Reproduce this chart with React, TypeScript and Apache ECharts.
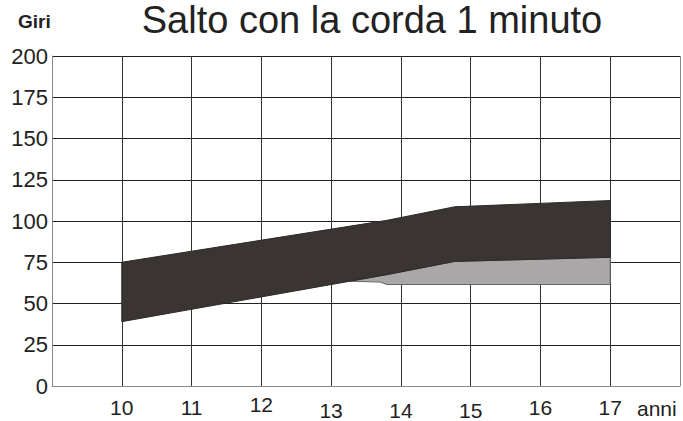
import React, { useEffect, useRef } from "react";
import * as echarts from "echarts";

const titleText = "Salto con la corda 1 minuto";
const yName = "Giri";
const xName = "anni";
const yTicks = [0, 25, 50, 75, 100, 125, 150, 175, 200];
const xTickLabels = [10, 11, 12, 13, 14, 15, 16, 17];

// upper edge of the dark band
const topX = [10, 13.8, 14.77, 17];
const topY = [75, 100.4, 108.6, 112.4];
// lower edge of the dark band / upper edge of the grey band
const midX = [10, 13.8, 14.77, 17];
const midY = [39, 67.5, 75.5, 78];
// lower edge of the grey band
const lowX = [13.27, 13.7, 13.8, 17];
const lowY = [63.5, 63, 61.5, 61.5];

const FONT = "'Liberation Sans', Arial, sans-serif";

// small vertical shifts of the year labels as in the source picture
const labelStyleKey: Record<number, string> = {
  10: "n", 11: "n", 12: "u", 13: "d", 14: "d", 15: "d", 16: "n", 17: "n",
};

export default function App() {
  const ref = useRef<HTMLDivElement>(null);
  useEffect(() => {
    if (!ref.current) return;
    const chart = echarts.init(ref.current, null, { renderer: "svg" });

    const darkPts: number[][] = [];
    topX.forEach((x, i) => darkPts.push([x, topY[i]]));
    for (let i = midX.length - 1; i >= 0; i--) darkPts.push([midX[i], midY[i]]);

    const greyPts: number[][] = [[lowX[0], lowY[0]]];
    midX.forEach((x, i) => {
      if (x > lowX[0]) greyPts.push([x, midY[i]]);
    });
    for (let i = lowX.length - 1; i >= 1; i--) greyPts.push([lowX[i], lowY[i]]);

    const polySeries = (pts: number[][], fill: string, stroke: string, z: number) => ({
      type: "custom",
      coordinateSystem: "cartesian2d",
      z,
      silent: true,
      data: pts,
      renderItem: (params: any, api: any) => {
        if (params.dataIndex !== 0) return null;
        const points = pts.map((p) => api.coord(p));
        return {
          type: "polygon",
          shape: { points },
          style: { fill, stroke, lineWidth: 1 },
        };
      },
    });

    const xLineColors = ["#888", "#333", "#333", "#333", "#333", "#333", "#333", "#333", "#333", "#888"];
    const lbl = { fontFamily: FONT, fontSize: 21, color: "#222" };

    chart.setOption({
      animation: false,
      backgroundColor: "#fff",
      grid: {
        left: 52,
        right: 3,
        top: 56,
        bottom: 35,
        containLabel: false,
        outerBoundsMode: "none",
      },
      xAxis: {
        type: "value",
        min: 9,
        max: 18,
        interval: 1,
        axisLine: { show: true, lineStyle: { color: "#888", width: 1 } },
        axisTick: { show: false },
        splitLine: { show: true, lineStyle: { color: xLineColors, width: 1 } },
        axisLabel: {
          fontFamily: FONT,
          fontSize: 21,
          color: "#222",
          margin: 8.5,
          verticalAlign: "top",
          formatter: (v: number) =>
            xTickLabels.indexOf(v) >= 0 ? `{${labelStyleKey[v]}|${v}}` : "",
          rich: {
            n: { ...lbl, lineHeight: 26 },
            u: { ...lbl, lineHeight: 19 },
            d: { ...lbl, lineHeight: 32 },
          },
        },
      },
      yAxis: {
        type: "value",
        min: 0,
        max: 200,
        interval: 25,
        axisLine: { show: true, lineStyle: { color: "#888", width: 1 } },
        axisTick: { show: false },
        splitLine: { show: true, lineStyle: { color: "#222", width: 1 } },
        axisLabel: {
          fontFamily: FONT,
          fontSize: 22,
          color: "#222",
          margin: 4,
          formatter: (v: number) => (yTicks.indexOf(v) >= 0 ? String(v) : ""),
        },
      },
      graphic: [
        {
          type: "text",
          x: 372,
          y: 19.5,
          style: {
            text: titleText,
            fontFamily: FONT,
            fontSize: 38,
            fill: "#222",
            textAlign: "center",
            textVerticalAlign: "middle",
          },
        },
        {
          type: "text",
          x: 18,
          y: 21,
          style: {
            text: yName,
            fontFamily: FONT,
            fontSize: 19,
            fontWeight: "bold",
            fill: "#222",
            textAlign: "left",
            textVerticalAlign: "middle",
          },
        },
        {
          type: "text",
          x: 637,
          y: 408,
          style: {
            text: xName,
            fontFamily: FONT,
            fontSize: 21,
            fill: "#222",
            textAlign: "left",
            textVerticalAlign: "middle",
          },
        },
      ],
      series: [
        polySeries(greyPts, "#a9a7a8", "#6a6668", 3),
        polySeries(darkPts, "#3a3533", "#2e2a28", 4),
      ],
    });
    return () => chart.dispose();
  }, []);
  return (
    <div
      ref={ref}
      style={{ position: "fixed", left: 0, top: 0, width: 683, height: 421 }}
    />
  );
}
